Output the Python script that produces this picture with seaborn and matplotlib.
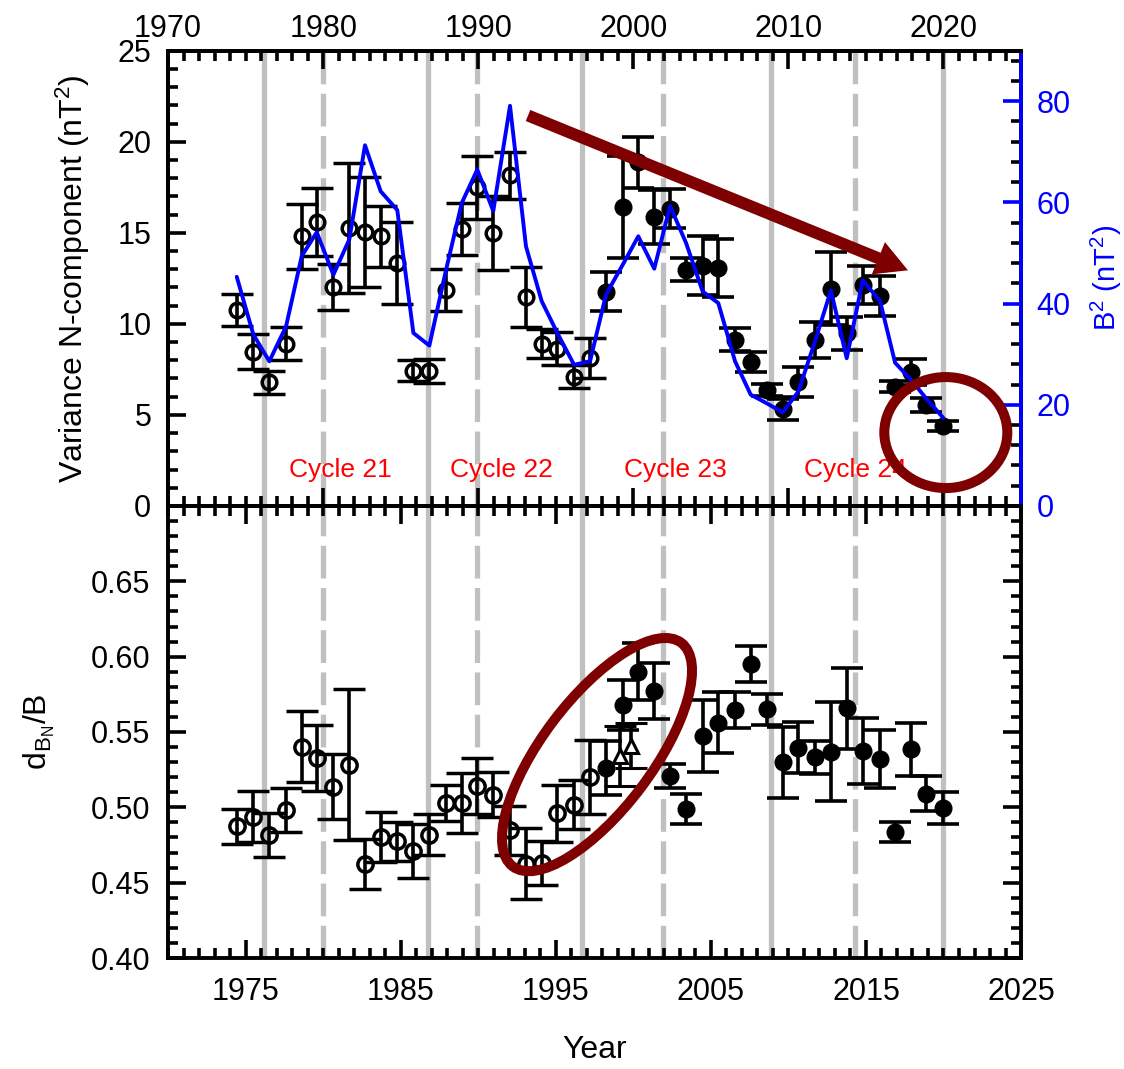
import numpy as np
import matplotlib.pyplot as plt
import seaborn as sns
from matplotlib.ticker import MultipleLocator, FixedLocator
from matplotlib.patches import Ellipse
from matplotlib.transforms import ScaledTranslation

# x positions of the points (years)
years = np.array([1974.43, 1975.50, 1976.53, 1977.61, 1978.62, 1979.59, 1980.66, 1981.69,
                  1982.70, 1983.71, 1984.78, 1985.82, 1986.85, 1987.92, 1988.94, 1989.94,
                  1990.97, 1992.05, 1993.08, 1994.09, 1995.10, 1996.18, 1997.21, 1998.24,
                  1999.32, 2000.32, 2001.35, 2002.37, 2003.40, 2004.47, 2005.48, 2006.56,
                  2007.57, 2008.60, 2009.63, 2010.64, 2011.71, 2012.74, 2013.76, 2014.79,
                  2015.91, 2016.88, 2017.89, 2018.87, 2019.99])

# variance of the N component (nT^2) and its error
var_n = np.array([10.75, 8.46, 6.78, 8.92, 14.8, 15.6, 12.02, 15.26, 15.04, 14.8, 13.34,
                  7.42, 7.42, 11.84, 15.22, 17.5, 14.99, 18.15, 11.48, 8.92, 8.64, 7.09,
                  8.1, 11.75, 16.41, 18.88, 15.86, 16.32, 12.98, 13.2, 13.05, 9.14, 7.91,
                  6.36, 5.3, 6.82, 9.1, 11.94, 9.47, 12.12, 11.51, 6.54, 7.36, 5.54, 4.39])
var_n_err = np.array([0.87, 0.96, 0.65, 0.93, 1.8, 1.85, 1.25, 3.55, 3.0, 1.67, 2.25,
                      0.57, 0.66, 1.15, 1.42, 1.73, 2.05, 1.27, 1.65, 0.78, 0.9, 0.64,
                      1.1, 1.07, 2.8, 1.4, 1.5, 1.07, 0.64, 1.6, 1.6, 0.65, 0.57,
                      0.32, 0.6, 0.82, 1.0, 2.0, 0.9, 1.05, 1.1, 0.3, 0.7, 0.4, 0.3])

# B^2 (nT^2), right axis
b2 = np.array([45.3, 33.9, 28.6, 35.5, 49.4, 54.1, 45.7, 52.7, 71.3, 62.2, 58.5, 34.2,
               31.7, 46.6, 59.9, 66.5, 58.3, 79.1, 51.3, 40.5, 34.2, 27.9, 28.6, 41.8,
               47.7, 53.3, 46.9, 59.3, 52.0, 42.4, 40.1, 28.6, 22.0, 20.3, 18.5, 22.6,
               32.5, 42.6, 29.2, 44.6, 40.5, 28.3, 25.0, 21.3, 17.4])

# dB_N / B and its error
dbn = np.array([0.4873, 0.4939, 0.4818, 0.4983, 0.5402, 0.5327, 0.5138, 0.5283, 0.4626,
                0.4802, 0.4776, 0.4710, 0.4818, 0.5027, 0.5027, 0.5144, 0.5085, 0.4847,
                0.4626, 0.4630, 0.4961, 0.5018, 0.5199, 0.5261, 0.5680, 0.5900, 0.5772,
                0.5210, 0.4990, 0.5475, 0.5563, 0.5644, 0.5953, 0.5651, 0.5298, 0.5397,
                0.5331, 0.5370, 0.5658, 0.5376, 0.5320, 0.4835, 0.5386, 0.5089, 0.4997])
dbn_err = np.array([0.0115, 0.017, 0.0147, 0.0145, 0.0235, 0.022, 0.0215, 0.05, 0.0165,
                    0.0165, 0.013, 0.018, 0.0135, 0.012, 0.02, 0.0185, 0.015, 0.016,
                    0.0235, 0.0145, 0.019, 0.0165, 0.0245, 0.018, 0.0165, 0.019, 0.0185,
                    0.008, 0.01, 0.024, 0.02, 0.012, 0.012, 0.0103, 0.0235, 0.017,
                    0.011, 0.033, 0.027, 0.022, 0.019, 0.0066, 0.0176, 0.0116, 0.0105])

# two extra points drawn as open triangles
tri_years = [1999.14, 1999.83]
tri_dbn = [0.534, 0.541]
tri_err = [0.02, 0.015]

# solar minima (solid) and maxima (dashed)
solar_min = [1976.19, 1986.76, 1996.69, 2008.88, 2019.97]
solar_max = [1979.99, 1989.92, 2001.91, 2014.29]
cycle_names = ['Cycle 21', 'Cycle 22', 'Cycle 23', 'Cycle 24']
cycle_x = [1981.09, 1991.5, 2002.69, 2014.29]

top_xticks = [1970, 1980, 1990, 2000, 2010, 2020]
bottom_xticks = [1975, 1985, 1995, 2005, 2015, 2025]
var_ticks = [0, 5, 10, 15, 20, 25]
b2_ticks = [0, 20, 40, 60, 80]
dbn_ticks = [0.40, 0.45, 0.50, 0.55, 0.60, 0.65]

sns.set_style('ticks', rc={'axes.edgecolor': 'black', 'xtick.color': 'black',
                           'ytick.color': 'black', 'text.color': 'black',
                           'axes.labelcolor': 'black'})
plt.rcParams['font.family'] = ['Liberation Sans', 'DejaVu Sans']
plt.rcParams['mathtext.default'] = 'regular'

DARKRED = '#7f0000'
GREY = '#c0c0c0'
FS = 22

fig = plt.figure(figsize=(11.24, 10.69), dpi=100)
ax1 = fig.add_axes([0.1495, 0.5267, 0.7589, 0.4259])
ax2 = fig.add_axes([0.1495, 0.1038, 0.7589, 0.4229])

hollow = years < 1998
filled = ~hollow
ebar = dict(ecolor='k', elinewidth=2.6, capsize=11.5, capthick=2.6, ls='none', zorder=3)

for ax in (ax1, ax2):
    for x in solar_min:
        ax.axvline(x, color=GREY, lw=3.8, zorder=0.5)
    for x in solar_max:
        ax.axvline(x, color=GREY, lw=3.8, ls=(0, (6.2, 1.8)), zorder=0.5)

# top panel
ax1.errorbar(years[hollow], var_n[hollow], yerr=var_n_err[hollow], fmt='o', ms=10.5,
             mfc='none', mec='k', mew=2.5, **ebar)
ax1.errorbar(years[filled], var_n[filled], yerr=var_n_err[filled], fmt='o', ms=12,
             mfc='k', mec='k', **ebar)
for name, cx in zip(cycle_names, cycle_x):
    ax1.text(cx, 1.97, name, color='red', fontsize=19, ha='center', va='center')

ax1r = ax1.twinx()
sns.lineplot(x=years, y=b2, ax=ax1r, color='blue', lw=2.8, zorder=5)

# bottom panel
ax2.errorbar(years[hollow], dbn[hollow], yerr=dbn_err[hollow], fmt='o', ms=11,
             mfc='none', mec='k', mew=2.5, **ebar)
ax2.errorbar(years[filled], dbn[filled], yerr=dbn_err[filled], fmt='o', ms=12,
             mfc='k', mec='k', **ebar)
ax2.errorbar(tri_years, tri_dbn, yerr=tri_err, fmt='^', ms=9.5, mfc='white', mec='k',
             mew=2.2, **ebar)

# axes limits / ticks
ax1.set_xlim(1970, 2025)
ax1.set_ylim(0, 25)
ax1r.set_ylim(0, 90)
ax2.set_xlim(1970, 2025)
ax2.set_ylim(0.40, 0.70)

ax1.xaxis.set_major_locator(FixedLocator(top_xticks))
ax1.xaxis.set_minor_locator(MultipleLocator(1))
ax1.yaxis.set_major_locator(FixedLocator(var_ticks))
ax1.yaxis.set_minor_locator(MultipleLocator(1))
ax1r.yaxis.set_major_locator(FixedLocator(b2_ticks))
ax1r.yaxis.set_minor_locator(MultipleLocator(4))
ax2.xaxis.set_major_locator(FixedLocator(bottom_xticks))
ax2.xaxis.set_minor_locator(MultipleLocator(1))
ax2.yaxis.set_major_locator(FixedLocator(dbn_ticks))
ax2.yaxis.set_minor_locator(MultipleLocator(0.01))
ax2.yaxis.set_major_formatter(plt.FormatStrFormatter('%.2f'))

for ax in (ax1, ax2, ax1r):
    ax.tick_params(which='both', direction='in', width=2.6, labelsize=FS)
    ax.tick_params(which='major', length=13)
    ax.tick_params(which='minor', length=7.5)
    for sp in ax.spines.values():
        sp.set_linewidth(2.8)

ax1.tick_params(axis='x', which='both', top=True, bottom=True, labeltop=True,
                labelbottom=False)
ax1.tick_params(axis='x', which='major', pad=5)
ax1.tick_params(axis='y', which='both', left=True, right=False, pad=12)
ax2.tick_params(axis='x', which='both', top=True, bottom=True, labelbottom=True, pad=14)
ax2.tick_params(axis='y', which='both', left=True, right=True, pad=13)

ax1r.tick_params(axis='y', which='major', colors='blue', pad=11)
ax1r.tick_params(axis='y', which='minor', colors='k')
ax1r.spines['right'].set_color('blue')
ax1r.set_ylabel('')

ax1.set_ylabel('Variance N-component (nT$^2$)', fontsize=23)
ax1.yaxis.set_label_coords(-0.089, 0.5)
ax1r.set_ylabel('B$^2$ (nT$^2$)', fontsize=21, color='blue')
ax1r.yaxis.set_label_coords(1.079, 0.5)
ax2.set_ylabel('d$_{B_N}$/B', fontsize=23)
ax2.yaxis.set_label_coords(-0.13, 0.5)
ax2.set_xlabel('Year', fontsize=23)
ax2.xaxis.set_label_coords(0.5, -0.17)

# annotations: trend arrow and the two highlighted regions
ax1r.annotate('', xy=(2017.71, 12.94), xytext=(1993.21, 21.44),
              xycoords=ax1.transData, textcoords=ax1.transData,
              arrowprops=dict(facecolor=DARKRED, edgecolor='none', width=8.6,
                              headwidth=25, headlength=23, shrink=0))
ring_top = Ellipse((0, 0), width=1.23, height=1.11, fill=False, ec=DARKRED, lw=7.2,
                   transform=fig.dpi_scale_trans + ScaledTranslation(2020.15, 4.03, ax1.transData))
ring_bot = Ellipse((0, 0), width=2.8, height=1.1, angle=53, fill=False, ec=DARKRED, lw=7.2,
                   transform=fig.dpi_scale_trans + ScaledTranslation(1997.66, 0.535, ax2.transData))
fig.add_artist(ring_top)
fig.add_artist(ring_bot)

fig.savefig('out.png', dpi=100)
